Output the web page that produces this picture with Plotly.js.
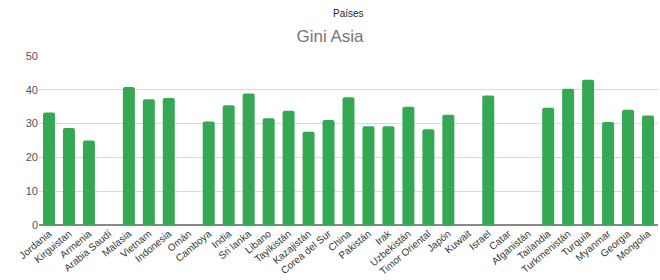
<!DOCTYPE html>
<html><head><meta charset="utf-8">
<script src="https://cdn.plot.ly/plotly-3.0.1.min.js"></script>
<style>html,body{margin:0;padding:0;background:#fff}#c{width:660px;height:280px}</style>
</head><body><div id="c"></div>
<script>
const paises = ["Jordania","Kirguistan","Armenia","Arabia Saudí","Malasia","Vietnam","Indonesia","Omán","Camboya","India","Sri lanka","Libano","Tayikistán","Kazajistán","Corea del Sur","China","Pakistán","Irak","Uzbekistán","Timor Oriental","Japón","Kuwait","Israel","Catar","Afganistán","Tailandia","Turkmenistán","Turquía","Myanmar","Georgia","Mongolia"];
const gini = [33.3,28.7,25.0,null,40.8,37.2,37.6,null,30.6,35.4,38.9,31.6,33.8,27.6,31.1,37.8,29.2,29.2,35.0,28.3,32.6,null,38.3,null,null,34.7,40.3,43.0,30.5,34.1,32.4];
const yTicks = [0,10,20,30,40,50];

Plotly.newPlot('c', [{
  type:'bar', x:paises, y:gini,
  marker:{color:'#34a853', cornerradius:2},
  hoverinfo:'x+y'
}], {
  width:660, height:280,
  margin:{l:39,r:2,t:56,b:55},
  paper_bgcolor:'#fff', plot_bgcolor:'#fff',
  bargap:0.4,
  font:{family:'Liberation Sans, Arial, sans-serif', color:'#444'},
  title:{text:'Gini Asia', x:0.5, xanchor:'center', y:0.87, yanchor:'middle', font:{size:17, color:'#757575'}},
  annotations:[{text:'Países', xref:'paper', yref:'paper', x:0.5, y:1, yshift:43, xanchor:'center', yanchor:'middle', showarrow:false, font:{size:10, color:'#222'}}],
  xaxis:{type:'category', tickangle:-40, tickfont:{size:10, color:'#333'}, showgrid:false, showline:false, ticks:'', automargin:false},
  yaxis:{range:[0,50], tickvals:yTicks, showgrid:true, gridcolor:'#d9d9d9', zeroline:true, zerolinecolor:'#888', zerolinewidth:1.2, tickfont:{size:11, color:'#555'}, ticks:'', automargin:false}
}, {displayModeBar:false, staticPlot:true});
</script></body></html>
